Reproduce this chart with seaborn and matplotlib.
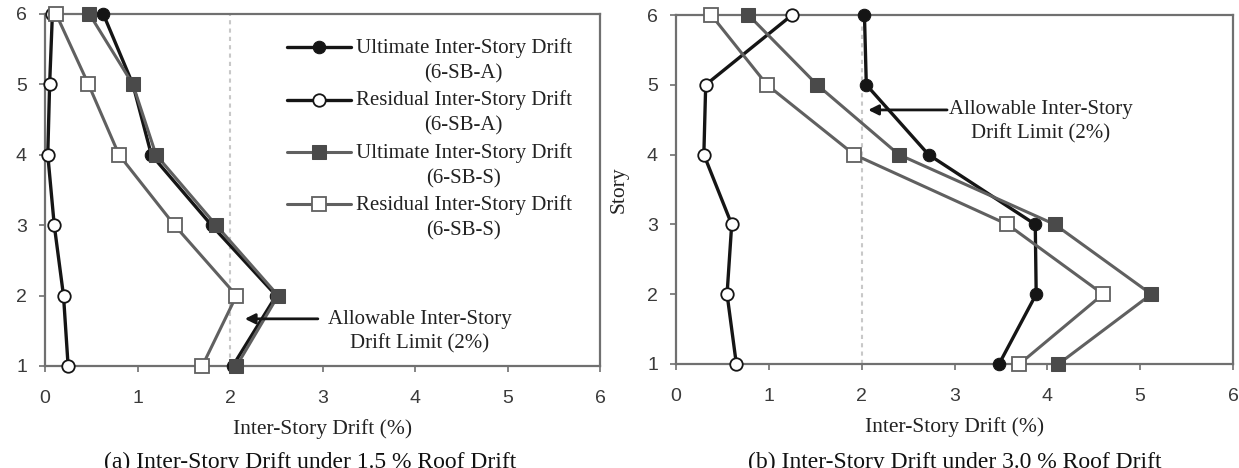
import matplotlib
matplotlib.use("Agg")
import matplotlib.pyplot as plt
from matplotlib.lines import Line2D
from matplotlib.legend_handler import HandlerLine2D
import seaborn as sns
import pandas as pd

sns.set_style("white")
plt.rcParams['font.family'] = ['Liberation Sans', 'DejaVu Sans']

stories = [6, 5, 4, 3, 2, 1]

# (a) 1.5 % roof drift
a_ult_A = [0.63, 0.95, 1.15, 1.80, 2.50, 2.03]
a_res_A = [0.08, 0.05, 0.03, 0.10, 0.20, 0.25]
a_ult_S = [0.48, 0.95, 1.20, 1.85, 2.52, 2.07]
a_res_S = [0.12, 0.47, 0.80, 1.40, 2.07, 1.70]

# (b) 3.0 % roof drift
b_ult_A = [2.03, 2.05, 2.72, 3.87, 3.88, 3.48]
b_res_A = [1.25, 0.32, 0.30, 0.60, 0.55, 0.65]
b_ult_S = [0.78, 1.52, 2.40, 4.08, 5.12, 4.12]
b_res_S = [0.38, 0.98, 1.92, 3.57, 4.60, 3.70]

labels = ["Ultimate Inter-Story Drift\n(6-SB-A)",
          "Residual Inter-Story Drift\n(6-SB-A)",
          "Ultimate Inter-Story Drift\n(6-SB-S)",
          "Residual Inter-Story Drift\n(6-SB-S)"]
x_ticks = [0, 1, 2, 3, 4, 5, 6]
y_ticks = [1, 2, 3, 4, 5, 6]
limit = 2.0
captions = ["(a) Inter-Story Drift under 1.5 % Roof Drift",
            "(b) Inter-Story Drift under 3.0 % Roof Drift"]
annot = "Allowable Inter-Story\nDrift Limit (2%)"

black = "#151515"
grey = "#606060"
sq_fill = "#4a4a4a"
spine_c = "#707070"

styles = [
    dict(color=black, marker="o", markerfacecolor=black, markeredgecolor=black, lw=2.4, markersize=9),
    dict(color=black, marker="o", markerfacecolor="white", markeredgecolor=black, lw=2.4, markersize=9, markeredgewidth=1.3),
    dict(color=grey, marker="s", markerfacecolor=sq_fill, markeredgecolor=sq_fill, lw=2.2, markersize=9.5),
    dict(color=grey, marker="s", markerfacecolor="white", markeredgecolor=grey, lw=2.2, markersize=9.5, markeredgewidth=1.3),
]


class UpHandler(HandlerLine2D):
    """Align the legend handle with the first line of a two-line label."""
    def __init__(self, dy, **kw):
        super().__init__(**kw)
        self.dy = dy

    def create_artists(self, legend, orig_handle, xdescent, ydescent, width,
                       height, fontsize, trans):
        arts = super().create_artists(legend, orig_handle, xdescent, ydescent,
                                      width, height, fontsize, trans)
        for a in arts:
            a.set_ydata([y + self.dy for y in a.get_ydata()])
        return arts


fig = plt.figure(figsize=(12.39, 4.68), dpi=100)
W, H = 1239, 468
ax1 = fig.add_axes([45 / W, 1 - 366 / H, 555 / W, 352 / H])
ax2 = fig.add_axes([676 / W, 1 - 364 / H, 557 / W, 349 / H])

panels = [
    (ax1, [a_ult_A, a_res_A, a_ult_S, a_res_S]),
    (ax2, [b_ult_A, b_res_A, b_ult_S, b_res_S]),
]

serif = ['Liberation Serif', 'DejaVu Serif']
txt_c = "#222222"

for ax, series in panels:
    ax.axvline(limit, color="#c8c8c8", lw=1.5, ls=(0, (2, 2)), zorder=1)
    for vals, st, lab in zip(series, styles, labels):
        df = pd.DataFrame({"drift": vals, "story": stories})
        sns.lineplot(data=df, x="drift", y="story", sort=False, ax=ax,
                     label=lab, zorder=3, clip_on=False, **st)
    ax.set_xlim(0, 6)
    ax.set_ylim(1, 6)
    ax.set_xticks(x_ticks)
    ax.set_yticks(y_ticks)
    ax.tick_params(axis="both", direction="out", length=4, width=1.2,
                   color=spine_c, labelsize=14, labelcolor="#3a3a3a",
                   left=True, bottom=True)
    ax.tick_params(axis="x", pad=13)
    ax.tick_params(axis="y", pad=9)
    for s in ax.spines.values():
        s.set_color(spine_c)
        s.set_linewidth(1.6)
        s.set_visible(True)
    ax.set_xlabel("Inter-Story Drift (%)", family=serif, fontsize=15.5, color=txt_c, labelpad=9)
    ax.set_ylabel("Story", family=serif, fontsize=15.5, color=txt_c)
    ax.yaxis.set_label_coords(-0.085, 0.5)
    ax.grid(False)
    ax.get_legend().remove()

leg = ax1.legend(loc="upper right", bbox_to_anchor=(0.964, 0.955), frameon=False,
                 prop={'family': serif, 'size': 15}, handlelength=3.1,
                 handletextpad=0.2, labelspacing=0.32, borderaxespad=0,
                 handler_map={Line2D: UpHandler(dy=9.5)})
for t in leg.get_texts():
    t.set_multialignment("center")
    t.set_linespacing(1.45)
    t.set_color(txt_c)

arrow_kw = dict(arrowstyle="-|>", color=black, lw=2.0, mutation_scale=15,
                shrinkA=0, shrinkB=0)
# panel (a) annotation
ax1.annotate("", xy=(2.16, 1.67), xytext=(2.95, 1.67), arrowprops=arrow_kw)
ax1.text(4.05, 1.48, annot, ha="center", va="center", family=serif, fontsize=15,
         color=txt_c, multialignment="center", linespacing=1.35)
# panel (b) annotation
ax2.annotate("", xy=(2.07, 4.64), xytext=(2.92, 4.64), arrowprops=arrow_kw)
ax2.text(3.93, 4.47, annot, ha="center", va="center", family=serif, fontsize=15,
         color=txt_c, multialignment="center", linespacing=1.3)

fig.text(310 / W, 1 - 452 / H, captions[0], ha="center", va="top", family=serif,
         fontsize=17, color="#111111")
fig.text(955 / W, 1 - 452 / H, captions[1], ha="center", va="top", family=serif,
         fontsize=17, color="#111111")

fig.savefig("out.png", dpi=100)
